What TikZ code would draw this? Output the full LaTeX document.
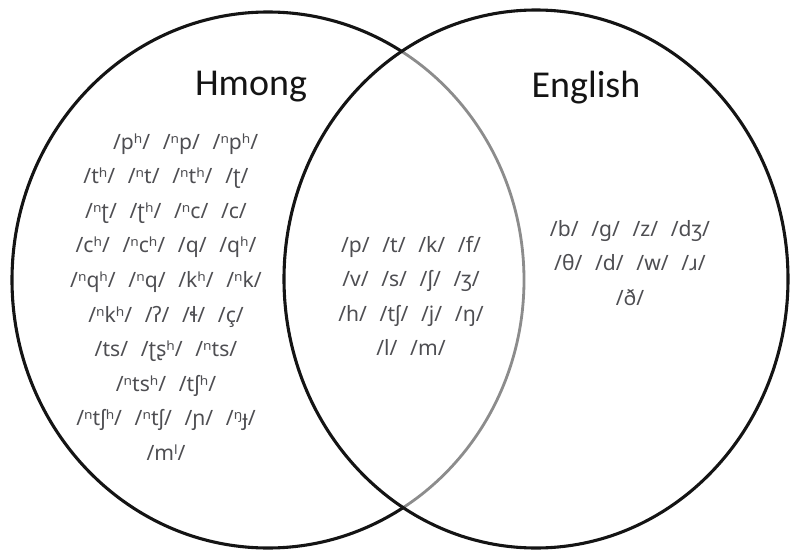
\documentclass[tikz,border=0pt]{standalone}
\usepackage{fontspec}
\setmainfont{Carlito}
\newfontfamily\ipafont{Noto Sans}
\definecolor{rim}{RGB}{20,20,20}
\definecolor{overlap}{RGB}{140,140,140}
\definecolor{ink}{RGB}{78,78,82}
\usetikzlibrary{positioning}

\tikzset{
  ring/.style={line width=2.2pt,rim},
  title/.style={font=\fontsize{27}{30}\selectfont,text=rim,inner sep=0pt},
  phones/.style={font=\ipafont\fontsize{15}{24.6}\selectfont,text=ink,align=center,inner sep=0pt},
}
\newcommand\gap{\hspace{0.6em}}

\begin{document}
\begin{tikzpicture}[x=0.025cm,y=-0.025cm]
        \useasboundingbox (0,0) rectangle (790,552);
        % Hmong ring: grey where it runs inside the English ring
        \begin{scope}
          \clip (536,279) ellipse [x radius=252, y radius=269];
          \draw[ring,overlap,line width=2pt] (268,280) ellipse [x radius=256, y radius=268];
        \end{scope}
        \begin{scope}[even odd rule]
          \clip (-10,-10) rectangle (800,562) (536,279) ellipse [x radius=252, y radius=269];
          \draw[ring] (268,280) ellipse [x radius=256, y radius=268];
        \end{scope}
        % English ring
        \draw[ring] (536,279) ellipse [x radius=252, y radius=269];

        \node[title,anchor=base] (hmong) at (251,95) {Hmong};
        \node[title,anchor=base] (english) at (586,97) {English};

        \node[phones] (hmonglist) at (166,297) {
          \hspace*{28pt}/pʰ/\gap/ⁿp/\gap/ⁿpʰ/\\
          /tʰ/\gap/ⁿt/\gap/ⁿtʰ/\gap/ʈ/\\
          /ⁿʈ/\gap/ʈʰ/\gap/ⁿc/\gap/c/\\
          /cʰ/\gap/ⁿcʰ/\gap/q/\gap/qʰ/\\
          /ⁿqʰ/\gap/ⁿq/\gap/kʰ/\gap/ⁿk/\\
          /ⁿkʰ/\gap/ʔ/\gap/ɬ/\gap/ç/\\
          /ts/\gap/ʈʂʰ/\gap/ⁿts/\\
          /ⁿtsʰ/\gap/tʃʰ/\\
          /ⁿtʃʰ/\gap/ⁿtʃ/\gap/ɲ/\gap/ᵑɟ/\\
          /mˡ/};
        \node[phones] (sharedlist) at (411,296) {
          /p/\gap/t/\gap/k/\gap/f/\\
          /v/\gap/s/\gap/ʃ/\gap/ʒ/\\
          /h/\gap/tʃ/\gap/j/\gap/ŋ/\\
          /l/\gap/m/};
        \node[phones] (englishlist) at (630,263) {
          /b/\gap/ɡ/\gap/z/\gap/dʒ/\\
          /θ/\gap/d/\gap/w/\gap/ɹ/\\
          /ð/};
\end{tikzpicture}
\end{document}
